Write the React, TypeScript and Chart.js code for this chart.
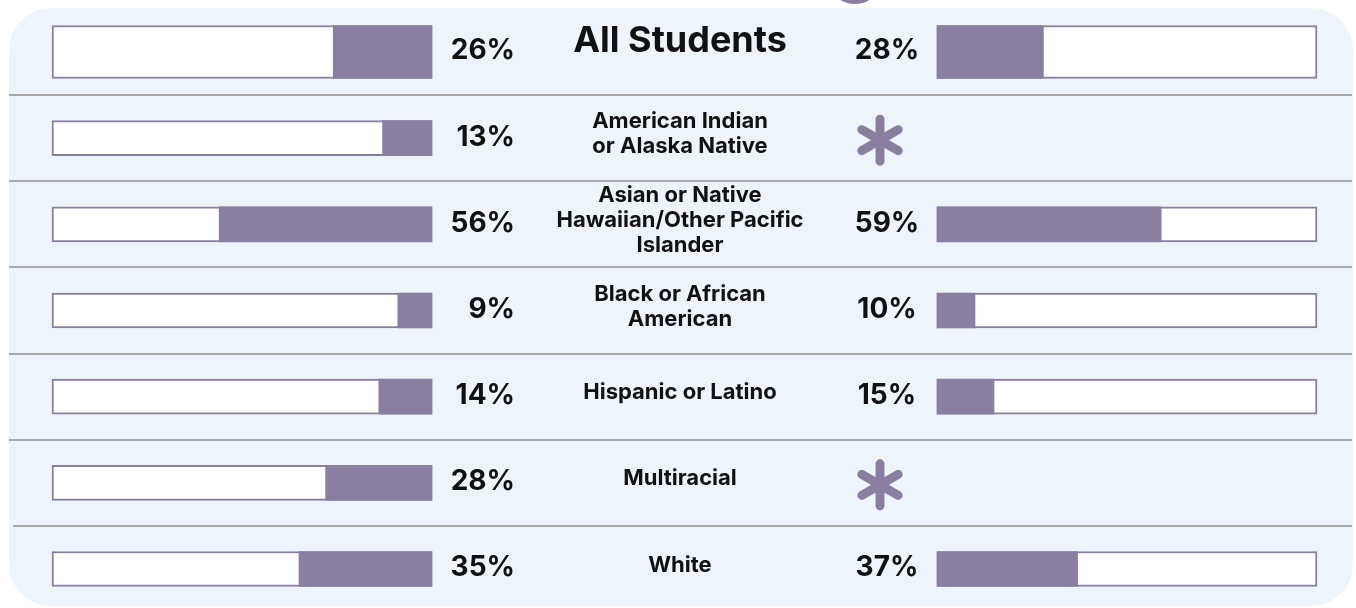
import React, { useEffect, useRef } from "react";
import { Chart, registerables } from "chart.js";

Chart.register(...registerables);

const CATEGORIES: string[][] = [
  ["All Students"],
  ["American Indian", "or Alaska Native"],
  ["Asian or Native", "Hawaiian/Other Pacific", "Islander"],
  ["Black or African", "American"],
  ["Hispanic or Latino"],
  ["Multiracial"],
  ["White"],
];
const LEFT_VALUES: (number | null)[] = [26, 13, 56, 9, 14, 28, 35];
const RIGHT_VALUES: (number | null)[] = [28, null, 59, 10, 15, null, 37];

const PURPLE = "#8b7fa1";
const PANEL = "#edf4fb";
const LINE = "#a9a9a9";
const W = 1356;
const H = 608;

export default function App() {
  const ref = useRef<HTMLCanvasElement | null>(null);

  useEffect(() => {
    const canvas = ref.current;
    if (!canvas) return;

    const padLeft = 52;
    const padRight = 39;
    const areaW = W - padLeft - padRight;
    const barW = 380;
    const leftMax = (areaW / barW) * 100;
    const rightMin = 100 - (areaW / barW) * 100;

    const labels = CATEGORIES.map((c) => c.join(" "));
    const pick = (vals: (number | null)[], all: boolean, fn: (v: number) => [number, number]) =>
      vals.map((v, i) => (v == null || (i === 0) !== all ? null : fn(v)));

    const bgCommon = {
      backgroundColor: "#ffffff",
      borderColor: PURPLE,
      borderWidth: 2,
      borderSkipped: false as const,
      order: 2,
      clip: false as any,
    };
    const fillCommon = {
      backgroundColor: PURPLE,
      borderWidth: 0,
      order: 1,
      clip: false as any,
    };

    const bgPlugin = {
      id: "bgPanel",
      beforeDraw(chart: any) {
        const ctx = chart.ctx as CanvasRenderingContext2D;
        ctx.save();
        ctx.fillStyle = "#ffffff";
        ctx.fillRect(0, 0, W, H);
        // purple ring peeking at the top
        ctx.strokeStyle = PURPLE;
        ctx.lineWidth = 4;
        ctx.beginPath();
        ctx.arc(855, -24, 26, 0, Math.PI);
        ctx.stroke();
        ctx.fillStyle = PANEL;
        ctx.beginPath();
        (ctx as any).roundRect(9, 8, 1344, 598, 42);
        ctx.fill();
        // row separators
        const y = chart.scales.y;
        ctx.strokeStyle = LINE;
        ctx.lineWidth = 2;
        for (let i = 0; i < CATEGORIES.length - 1; i++) {
          const yy = Math.round((y.getPixelForValue(i) + y.getPixelForValue(i + 1)) / 2);
          ctx.beginPath();
          ctx.moveTo(i === CATEGORIES.length - 2 ? 13 : 9, yy);
          ctx.lineTo(1352, yy);
          ctx.stroke();
        }
        ctx.restore();
      },
    };

    const drawAsterisk = (ctx: CanvasRenderingContext2D, cx: number, cy: number) => {
      const r = 21;
      ctx.save();
      ctx.strokeStyle = PURPLE;
      ctx.lineWidth = 9;
      ctx.lineCap = "round";
      for (let k = 0; k < 3; k++) {
        const a = Math.PI / 2 + (k * Math.PI) / 3;
        ctx.beginPath();
        ctx.moveTo(cx - r * Math.cos(a), cy - r * Math.sin(a));
        ctx.lineTo(cx + r * Math.cos(a), cy + r * Math.sin(a));
        ctx.stroke();
      }
      ctx.restore();
    };

    const textPlugin = {
      id: "texts",
      afterDraw(chart: any) {
        const ctx = chart.ctx as CanvasRenderingContext2D;
        const y = chart.scales.y;
        const xl = chart.scales.x;
        const xr = chart.scales.x2;
        const centerX = 680;
        ctx.save();
        ctx.fillStyle = "#111111";
        CATEGORIES.forEach((lines, i) => {
          const yc = y.getPixelForValue(i);
          // center label
          if (i === 0) {
            ctx.font = "bold 36px Inter";
            ctx.textAlign = "center";
            ctx.textBaseline = "middle";
            ctx.fillText(lines[0], centerX, yc - 11);
          } else {
            ctx.font = "bold 22px Inter";
            ctx.textAlign = "center";
            ctx.textBaseline = "middle";
            const lh = 25;
            const top = yc - 4 - ((lines.length - 1) * lh) / 2;
            lines.forEach((ln, j) => ctx.fillText(ln, centerX, top + j * lh));
          }
          // percentages
          ctx.font = "bold 28px Inter";
          ctx.textBaseline = "middle";
          const lv = LEFT_VALUES[i];
          if (lv != null) {
            ctx.textAlign = "right";
            ctx.fillText(`${lv}%`, xl.getPixelForValue(100) + 83, yc - 1);
          }
          const rv = RIGHT_VALUES[i];
          const rx = xr.getPixelForValue(0) - 50;
          if (rv != null) {
            ctx.textAlign = "center";
            ctx.fillText(`${rv}%`, rx, yc - 1);
          } else {
            drawAsterisk(ctx, rx - 7, yc + 2);
          }
        });
        ctx.restore();
      },
    };

    const chart = new Chart(canvas, {
      type: "bar",
      data: {
        labels,
        datasets: [
          { ...bgCommon, xAxisID: "x", barThickness: 53, data: pick(LEFT_VALUES, true, () => [0, 100]) },
          { ...fillCommon, xAxisID: "x", barThickness: 53, data: pick(LEFT_VALUES, true, (v) => [100 - v, 100]) },
          { ...bgCommon, xAxisID: "x", barThickness: 35, data: pick(LEFT_VALUES, false, () => [0, 100]) },
          { ...fillCommon, xAxisID: "x", barThickness: 35, data: pick(LEFT_VALUES, false, (v) => [100 - v, 100]) },
          { ...bgCommon, xAxisID: "x2", barThickness: 53, data: pick(RIGHT_VALUES, true, () => [0, 100]) },
          { ...fillCommon, xAxisID: "x2", barThickness: 53, data: pick(RIGHT_VALUES, true, (v) => [0, v]) },
          { ...bgCommon, xAxisID: "x2", barThickness: 35, data: pick(RIGHT_VALUES, false, () => [0, 100]) },
          { ...fillCommon, xAxisID: "x2", barThickness: 35, data: pick(RIGHT_VALUES, false, (v) => [0, v]) },
        ] as any,
      },
      options: {
        indexAxis: "y",
        responsive: false,
        animation: false,
        layout: { padding: { left: padLeft, right: padRight, top: 52, bottom: 39 } },
        datasets: { bar: { grouped: false } } as any,
        plugins: { legend: { display: false }, tooltip: { enabled: false } },
        scales: {
          y: { type: "category", display: false, offset: false, grid: { display: false } },
          x: { type: "linear", display: false, min: 0, max: leftMax, grid: { display: false } },
          x2: { type: "linear", display: false, min: rightMin, max: 100, grid: { display: false } },
        },
      },
      plugins: [bgPlugin, textPlugin],
    });

    return () => chart.destroy();
  }, []);

  return (
    <div style={{ position: "absolute", left: 0, top: 0, width: W, height: H }}>
      <canvas ref={ref} width={W} height={H} style={{ display: "block" }} />
    </div>
  );
}
